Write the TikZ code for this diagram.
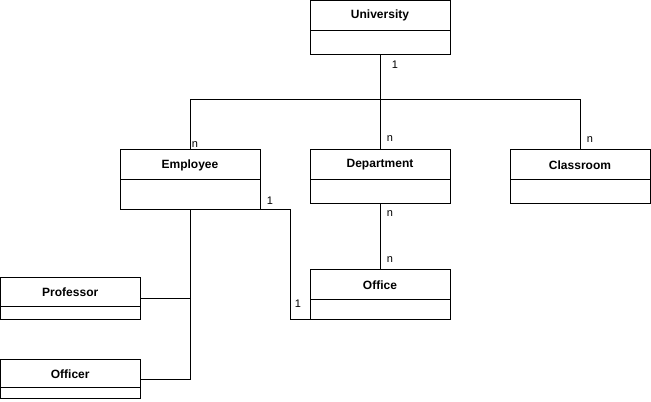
\documentclass[tikz,border=0pt]{standalone}
\usepackage{fontspec}
\setmainfont{Liberation Sans}
\newcommand\umlclass[7]{% name, left, top, width, head height, total height, title
  \node[box, minimum width=#4*0.75pt, minimum height=#6*0.75pt] (#1) at (#2,#3) {};
  \node[ttl] (#1-t) at ({#2+#4/2},{#3+#5/2}) {#7};
  \draw[line width=0.75pt] (#2,{#3+#5}) -- ++(#4,0);
}
\begin{document}
\begin{tikzpicture}[x=0.75pt,y=-0.75pt,
  box/.style={draw, line width=0.75pt, anchor=north west, inner sep=0pt, outer sep=0pt},
  ttl/.style={font=\fontsize{9}{11}\selectfont\bfseries, inner sep=0pt},
  lbl/.style={font=\fontsize{8.25}{10}\selectfont, inner sep=0pt},
  conn/.style={draw, line width=0.75pt}]
\useasboundingbox (0,0) rectangle (651,402);
\umlclass{univ}{310}{0.5}{140}{30}{54}{University}
\umlclass{emp}{120}{150}{140}{30}{60}{Employee}
\umlclass{dept}{310}{150}{140}{30}{54}{Department}
\umlclass{room}{510}{150}{140}{30}{54}{Classroom}
\umlclass{off}{310}{270}{140}{30}{50}{Office}
\umlclass{prof}{0.5}{278}{139.5}{29}{42}{Professor}
\umlclass{offr}{0.5}{360}{139.5}{28}{39}{Officer}
\coordinate (j) at (380,100);
\path[conn] (univ.south) -- (j);
\path[conn] (j) -| (emp.north);
\path[conn] (j) -- (dept.north);
\path[conn] (j) -| (room.north);
\path[conn] (dept.south) -- (off.north);
\path[conn] (emp.south east) -- ++(30,0) |- (off.south west);
\path[conn] (emp.south) |- (offr.east);
\path[conn] (prof.east) -- (prof.east -| emp.south);
\node[lbl] (l1) at (395,65) {1};
\node[lbl] (l2) at (195,145) {n};
\node[lbl] (l3) at (390,139) {n};
\node[lbl] (l4) at (590,140) {n};
\node[lbl] (l5) at (270,201) {1};
\node[lbl] (l6) at (390,214) {n};
\node[lbl] (l7) at (390,260) {n};
\node[lbl] (l8) at (298,304) {1};
\end{tikzpicture}
\end{document}
